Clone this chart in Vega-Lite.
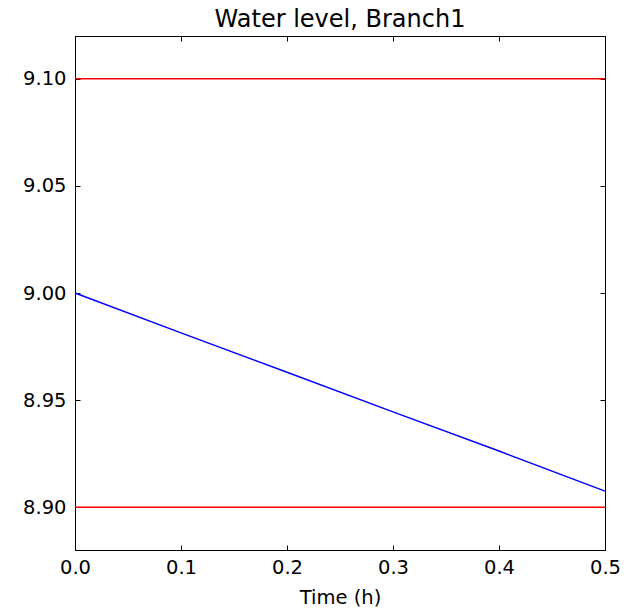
{
  "$schema": "https://vega.github.io/schema/vega-lite/v6.json",
  "autosize": "none",
  "width": 530,
  "height": 514,
  "padding": {"left": 75, "top": 36, "right": 24, "bottom": 60},
  "title": {"text": "Water level, Branch1", "font": "DejaVu Sans", "fontSize": 24, "fontWeight": "normal", "color": "black", "offset": 4},
  "config": {
    "view": {"stroke": "black", "strokeWidth": 1},
    "axis": {"grid": false, "labelFont": "DejaVu Sans", "labelFontSize": 19.5, "labelColor": "black", "titleFont": "DejaVu Sans", "titleFontSize": 19.5, "titleFontWeight": "normal", "titleColor": "black", "domainColor": "black", "tickColor": "black", "tickSize": -5, "labelFlush": false}
  },
  "resolve": {"axis": {"x": "independent", "y": "independent"}},
  "datasets": {
    "level": [
      {"t": 0.0, "h": 9.0},
      {"t": 0.1, "h": 8.9814},
      {"t": 0.2, "h": 8.9630},
      {"t": 0.3, "h": 8.9445},
      {"t": 0.4, "h": 8.9262},
      {"t": 0.5, "h": 8.9075}
    ],
    "limits": [
      {"h": 9.10},
      {"h": 8.90}
    ]
  },
  "layer": [
    {
      "data": {"name": "level"},
      "mark": {"type": "line", "color": "#0000ff", "strokeWidth": 1.5},
      "encoding": {
        "x": {"field": "t", "type": "quantitative", "scale": {"domain": [0, 0.5], "nice": false}, "axis": {"title": "Time (h)", "values": [0, 0.1, 0.2, 0.3, 0.4, 0.5], "format": ".1f", "labelPadding": 13, "titlePadding": 12}},
        "y": {"field": "h", "type": "quantitative", "scale": {"domain": [8.88, 9.12], "nice": false, "zero": false}, "axis": {"title": null, "values": [8.90, 8.95, 9.00, 9.05, 9.10], "format": ".2f", "labelPadding": 14}}
      }
    },
    {
      "data": {"name": "limits"},
      "mark": {"type": "rule", "color": "#ff0000", "strokeWidth": 1.5},
      "encoding": {
        "y": {"field": "h", "type": "quantitative", "axis": null}
      }
    },
    {
      "data": {"name": "limits"},
      "mark": {"type": "rule", "opacity": 0},
      "encoding": {
        "x": {"datum": 0, "type": "quantitative", "axis": {"orient": "top", "title": null, "labels": false, "values": [0, 0.1, 0.2, 0.3, 0.4, 0.5]}},
        "y": {"field": "h", "type": "quantitative", "axis": {"orient": "right", "title": null, "labels": false, "values": [8.90, 8.95, 9.00, 9.05, 9.10]}}
      }
    }
  ]
}
